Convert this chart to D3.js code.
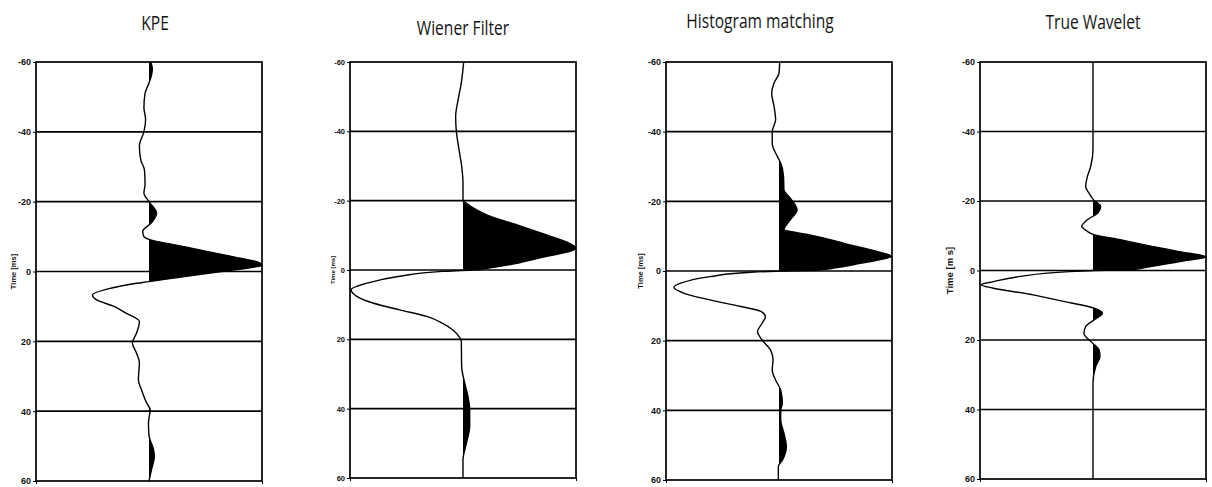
<!DOCTYPE html>
<html>
<head>
<meta charset="utf-8">
<script src="https://cdn.jsdelivr.net/npm/d3@7"></script>
<style>
  body { margin: 0; background: #fff; }
  svg { display: block; }
  .title { font-family: "Open Sans", sans-serif; font-size: 20px; font-weight: 500; fill: #151515; }
  .tick text { font-family: "Liberation Sans", Arial, sans-serif; font-weight: bold; fill: #111; }
  .ylab { font-family: "Liberation Sans", Arial, sans-serif; font-weight: bold; fill: #111; }
</style>
</head>
<body>
<svg id="chart" width="1212" height="487"></svg>
<script>
var titles = ["KPE", "Wiener Filter", "Histogram matching", "True Wavelet"];
var yTicks = [-60, -40, -20, 0, 20, 40, 60];
var yTitles = ["Time [ms]", "Time [ms]", "Time [ms]", "Time [m s]"];

// traces: time (ms) and normalised amplitude
var kpeTime = [-60,-58,-56,-54,-51,-47,-43.5,-40,-36,-32,-29,-25,-22.5,-20,-16.7,-14,-11.5,-10,-9.2,-7.5,-5.8,-4.2,-2.6,-1.8,-1.2,0,1.5,2.9,3.5,4.8,6.7,8,10,12,14.3,17.6,20.5,23.4,26.2,31,34,37.7,39.6,43.4,47,51,53,57,60];
var kpeAmp  = [0.015,0.03,0.02,0,-0.035,-0.045,-0.03,-0.045,-0.085,-0.073,-0.04,-0.035,-0.045,0,0.067,0.023,-0.056,-0.045,0,0.25,0.5,0.75,0.97,1.0,0.92,0.64,0.3,0,-0.14,-0.34,-0.5,-0.47,-0.31,-0.2,-0.085,-0.11,-0.147,-0.11,-0.085,-0.094,-0.065,-0.02,0.01,-0.005,0,0.04,0.047,0.02,0];

var wienerTime = [-60,-54,-49,-44.3,-40,-34.7,-30,-25,-20,-19.5,-17.9,-15.9,-13,-10.1,-7.2,-6.3,-5.8,-3.5,-1.4,-0.6,0,0.4,1.8,3.8,5.7,7.6,9.6,11.5,13.4,15.4,17.3,19.2,20.4,27.8,32.6,36.5,40.3,45.1,50,54.7,60];
var wienerAmp  = [0.006,-0.015,-0.044,-0.065,-0.059,-0.035,-0.012,0,0,0.02,0.09,0.21,0.48,0.74,0.97,1.0,0.98,0.68,0.39,0.24,0.08,-0.18,-0.56,-0.85,-0.99,-0.94,-0.79,-0.56,-0.32,-0.18,-0.09,-0.035,-0.015,-0.012,0.015,0.044,0.059,0.059,0.03,0,0];

var histTime = [-60,-56.8,-54,-51,-47.3,-43.4,-40,-36.7,-32.9,-31,-27.1,-23.3,-20.9,-17.5,-14.7,-11.8,-11.2,-10.3,-7.5,-5.5,-4.2,-3.5,-2.2,-0.9,-0.3,0,0.3,1.6,3.5,4.7,6.4,8.3,10.2,11.6,13.1,15,17.4,19.8,22.7,25.5,28.4,31.3,34.2,38,39.9,42.8,46.6,50.5,54.3,56.2,60];
var histAmp  = [0.006,0,-0.044,-0.065,-0.044,-0.03,-0.06,-0.06,-0.015,0.015,0.04,0.044,0.1,0.16,0.1,0.044,0.125,0.28,0.63,0.88,1.0,0.93,0.72,0.5,0.35,0.05,-0.22,-0.61,-0.87,-0.93,-0.84,-0.61,-0.34,-0.16,-0.12,-0.15,-0.19,-0.15,-0.074,-0.053,-0.06,-0.03,0.015,0.03,0.015,0.015,0.044,0.065,0.03,-0.006,-0.006];

var trueTime = [-60,-40,-34.8,-30,-27,-24.2,-22.3,-20.4,-18.4,-16.5,-14.6,-12.7,-11.5,-10.4,-8.8,-7.1,-5.5,-3.9,-2.9,-1.9,-0.9,-0.3,0,0.4,1.7,3.2,4.1,5.1,7,8.9,10.3,12.3,14.2,16.1,18.1,20.4,22.8,24.7,27.6,32.4,60];
var trueAmp  = [0,0,0,-0.02,-0.05,-0.065,-0.036,0.003,0.068,0.04,-0.05,-0.1,-0.06,0,0.25,0.5,0.75,1.0,0.83,0.65,0.47,0.36,0.02,-0.25,-0.64,-0.88,-0.99,-0.88,-0.53,-0.26,-0.05,0.083,0.01,-0.065,-0.08,-0.02,0.053,0.062,0.024,0,0];

var traces = [
  {t: kpeTime, a: kpeAmp},
  {t: wienerTime, a: wienerAmp},
  {t: histTime, a: histAmp},
  {t: trueTime, a: trueAmp}
];

var svg = d3.select("#chart");

var lefts = [36, 350, 666, 980],
    heights = [419, 416, 418, 417],
    titleX = [155, 463, 760, 1093],
    titleY = [30, 35, 28, 29],
    labOff = [20, 15, 23, 27],
    labSize = [7.5, 6, 7.5, 9.5],
    plotTop = 62, w = 226;

traces.forEach(function(tr, i) {
    var h = heights[i];
    var g = svg.append("g").attr("transform", "translate(" + lefts[i] + "," + plotTop + ")");

    var x = d3.scaleLinear().domain([-1, 1]).range([0, w]);
    var y = d3.scaleLinear().domain([-60, 60]).range([0, h]);

    var pts = tr.t.map(function(t, k) { return [t, tr.a[k]]; });

    // positive lobes filled black
    var clipId = "clip" + i;
    g.append("clipPath").attr("id", clipId)
      .append("rect")
        .attr("x", x(0)).attr("y", 0)
        .attr("width", w - x(0)).attr("height", h);

    var area = d3.area()
        .curve(d3.curveMonotoneY)
        .y(function(d) { return y(d[0]); })
        .x0(x(0))
        .x1(function(d) { return x(d[1]); });

    g.append("path")
        .datum(pts)
        .attr("clip-path", "url(#" + clipId + ")")
        .attr("fill", "#000")
        .attr("d", area);

    var line = d3.line()
        .curve(d3.curveMonotoneY)
        .x(function(d) { return x(d[1]); })
        .y(function(d) { return y(d[0]); });

    g.append("path")
        .datum(pts)
        .attr("fill", "none")
        .attr("stroke", "#000")
        .attr("stroke-width", 1.4)
        .attr("d", line);

    // horizontal grid lines
    g.selectAll(".grid")
        .data(yTicks.slice(1, -1))
        .enter().append("line")
        .attr("x1", 0).attr("x2", w)
        .attr("y1", function(d) { return y(d); })
        .attr("y2", function(d) { return y(d); })
        .attr("stroke", "#000")
        .attr("stroke-width", 1.7);

    g.append("rect")
        .attr("width", w).attr("height", h)
        .attr("fill", "none")
        .attr("stroke", "#000")
        .attr("stroke-width", 1.7);

    var yAxis = g.append("g")
        .call(d3.axisLeft(y).tickValues(yTicks).tickSize(3).tickPadding(2)
            .tickFormat(function(d) { return String(d); }));
    yAxis.select(".domain").remove();
    yAxis.selectAll("text").style("font-size", (i == 1 ? 7.5 : 9) + "px");

    var xAxis = g.append("g")
        .attr("transform", "translate(0," + h + ")")
        .call(d3.axisBottom(x).tickValues([-1, 1]).tickSize(3).tickFormat(""));
    xAxis.select(".domain").remove();

    g.append("text")
        .attr("class", "ylab")
        .attr("transform", "translate(" + (-labOff[i]) + "," + y(0) + ") rotate(-90)")
        .attr("text-anchor", "middle")
        .style("font-size", labSize[i] + "px")
        .text(yTitles[i]);

    svg.append("text")
        .attr("class", "title")
        .attr("transform", "translate(" + titleX[i] + "," + titleY[i] + ") scale(0.78,1)")
        .attr("text-anchor", "middle")
        .text(titles[i]);
});
</script>
</body>
</html>
